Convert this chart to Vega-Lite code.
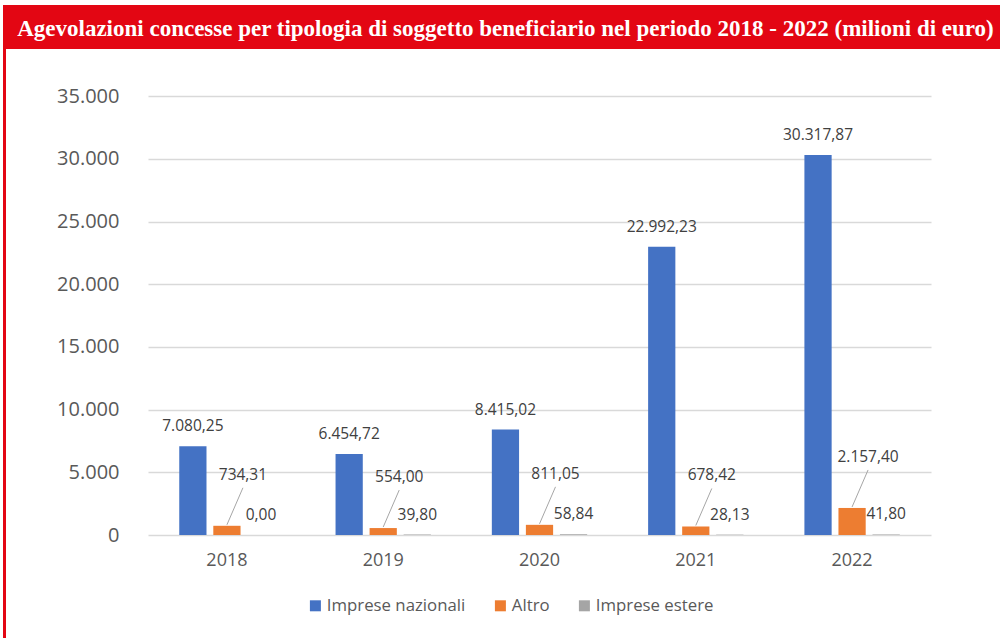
{
  "$schema": "https://vega.github.io/schema/vega-lite/v6.json",
  "padding": {"left": 3, "top": 5, "right": 0, "bottom": 0},
  "background": "white",
  "config": {
    "locale": {"number": {"decimal": ",", "thousands": ".", "grouping": [3], "currency": ["", " €"]}},
    "font": "Open Sans",
    "view": {"stroke": null},
    "legend": {
      "orient": "none",
      "legendX": 304,
      "legendY": 592,
      "direction": "horizontal",
      "title": null,
      "symbolType": "square",
      "symbolSize": 121,
      "symbolStrokeWidth": 0,
      "labelFontSize": 16.8,
      "labelColor": "#595959",
      "labelFont": "Open Sans",
      "labelOffset": 3,
      "columnPadding": 26
    }
  },
  "spacing": 0,
  "vconcat": [
    {
      "width": 997,
      "height": 44,
      "view": {"fill": "#e30613", "stroke": null},
      "data": {"values": [{"titolo": "Agevolazioni concesse per tipologia di soggetto beneficiario nel periodo 2018 - 2022 (milioni di euro)"}]},
      "mark": {"type": "text", "font": "Liberation Serif", "fontWeight": "bold", "fontSize": 23, "color": "white", "baseline": "alphabetic", "dy": 9, "dx": 4},
      "encoding": {"text": {"field": "titolo"}}
    },
    {
      "spacing": 0,
      "hconcat": [
        {
          "width": 3,
          "height": 589,
          "data": {"values": []},
          "mark": "point",
          "view": {"fill": "#e30613", "stroke": null}
        },
        {
          "width": 783,
          "height": 486,
          "data": {"values": [
            {"anno": "2018", "serie": "Imprese nazionali", "valore": 7080.25},
            {"anno": "2018", "serie": "Altro", "valore": 734.31},
            {"anno": "2018", "serie": "Imprese estere", "valore": 0.00},
            {"anno": "2019", "serie": "Imprese nazionali", "valore": 6454.72},
            {"anno": "2019", "serie": "Altro", "valore": 554.00},
            {"anno": "2019", "serie": "Imprese estere", "valore": 39.80},
            {"anno": "2020", "serie": "Imprese nazionali", "valore": 8415.02},
            {"anno": "2020", "serie": "Altro", "valore": 811.05},
            {"anno": "2020", "serie": "Imprese estere", "valore": 58.84},
            {"anno": "2021", "serie": "Imprese nazionali", "valore": 22992.23},
            {"anno": "2021", "serie": "Altro", "valore": 678.42},
            {"anno": "2021", "serie": "Imprese estere", "valore": 28.13},
            {"anno": "2022", "serie": "Imprese nazionali", "valore": 30317.87},
            {"anno": "2022", "serie": "Altro", "valore": 2157.40},
            {"anno": "2022", "serie": "Imprese estere", "valore": 41.80}
          ]},
          "encoding": {
            "x": {
              "field": "anno",
              "type": "nominal",
              "scale": {"paddingInner": 0.39, "paddingOuter": 0.2},
              "axis": {
                "title": null,
                "domain": false,
                "ticks": false,
                "grid": false,
                "labelAngle": 0,
                "labelFontSize": 18,
                "labelColor": "#595959",
                "labelFont": "Open Sans",
                "labelPadding": 16
              }
            },
            "y": {
              "field": "valore",
              "type": "quantitative",
              "scale": {"domain": [0, 38774], "nice": false},
              "axis": {
                "title": null,
                "domain": false,
                "ticks": false,
                "values": [0, 5000, 10000, 15000, 20000, 25000, 30000, 35000],
                "format": ",.0f",
                "labelFontSize": 20,
                "labelColor": "#595959",
                "labelFont": "Open Sans",
                "labelPadding": 29,
                "gridColor": "#d9d9d9",
                "gridWidth": 1.5,
                "minExtent": 142
              }
            }
          },
          "layer": [
            {
              "mark": {"type": "bar"},
              "encoding": {
                "xOffset": {"field": "serie", "type": "nominal", "scale": {"domain": ["Imprese nazionali", "Altro", "Imprese estere"], "paddingInner": 0.2, "paddingOuter": 0}},
                "color": {
                  "field": "serie",
                  "type": "nominal",
                  "scale": {"domain": ["Imprese nazionali", "Altro", "Imprese estere"], "range": ["#4472c4", "#ed7d31", "#a5a5a5"]}
                }
              }
            },
            {
              "transform": [{"filter": "datum.serie === 'Imprese nazionali'"}],
              "mark": {"type": "text", "dy": -20, "fontSize": 15.5, "color": "#404040", "font": "Open Sans"},
              "encoding": {
                "xOffset": {"field": "serie", "type": "nominal", "scale": {"domain": ["Imprese nazionali", "Altro", "Imprese estere"], "paddingInner": 0.2, "paddingOuter": 0}},
                "text": {"field": "valore", "type": "quantitative", "format": ",.2f"}
              }
            },
            {
              "transform": [{"filter": "datum.serie === 'Altro'"}],
              "mark": {"type": "text", "dx": 16, "dy": -51, "fontSize": 15.5, "color": "#404040", "font": "Open Sans"},
              "encoding": {
                "xOffset": {"field": "serie", "type": "nominal", "scale": {"domain": ["Imprese nazionali", "Altro", "Imprese estere"], "paddingInner": 0.2, "paddingOuter": 0}},
                "text": {"field": "valore", "type": "quantitative", "format": ",.2f"}
              }
            },
            {
              "transform": [{"filter": "datum.serie === 'Imprese estere'"}],
              "mark": {"type": "text", "dy": -20, "fontSize": 15.5, "color": "#404040", "font": "Open Sans"},
              "encoding": {
                "xOffset": {"field": "serie", "type": "nominal", "scale": {"domain": ["Imprese nazionali", "Altro", "Imprese estere"], "paddingInner": 0.2, "paddingOuter": 0}},
                "text": {"field": "valore", "type": "quantitative", "format": ",.2f"}
              }
            },
            {
              "transform": [{"filter": "datum.serie === 'Altro'"}],
              "mark": {"type": "rule", "color": "#a6a6a6", "strokeWidth": 1, "x2Offset": 16, "y2Offset": -38, "yOffset": -1},
              "encoding": {
                "x": {"field": "anno", "type": "nominal", "bandPosition": 0.5},
                "x2": {"field": "anno", "bandPosition": 0.5},
                "y2": {"field": "valore"}
              }
            }
          ]
        }
      ]
    }
  ]
}
